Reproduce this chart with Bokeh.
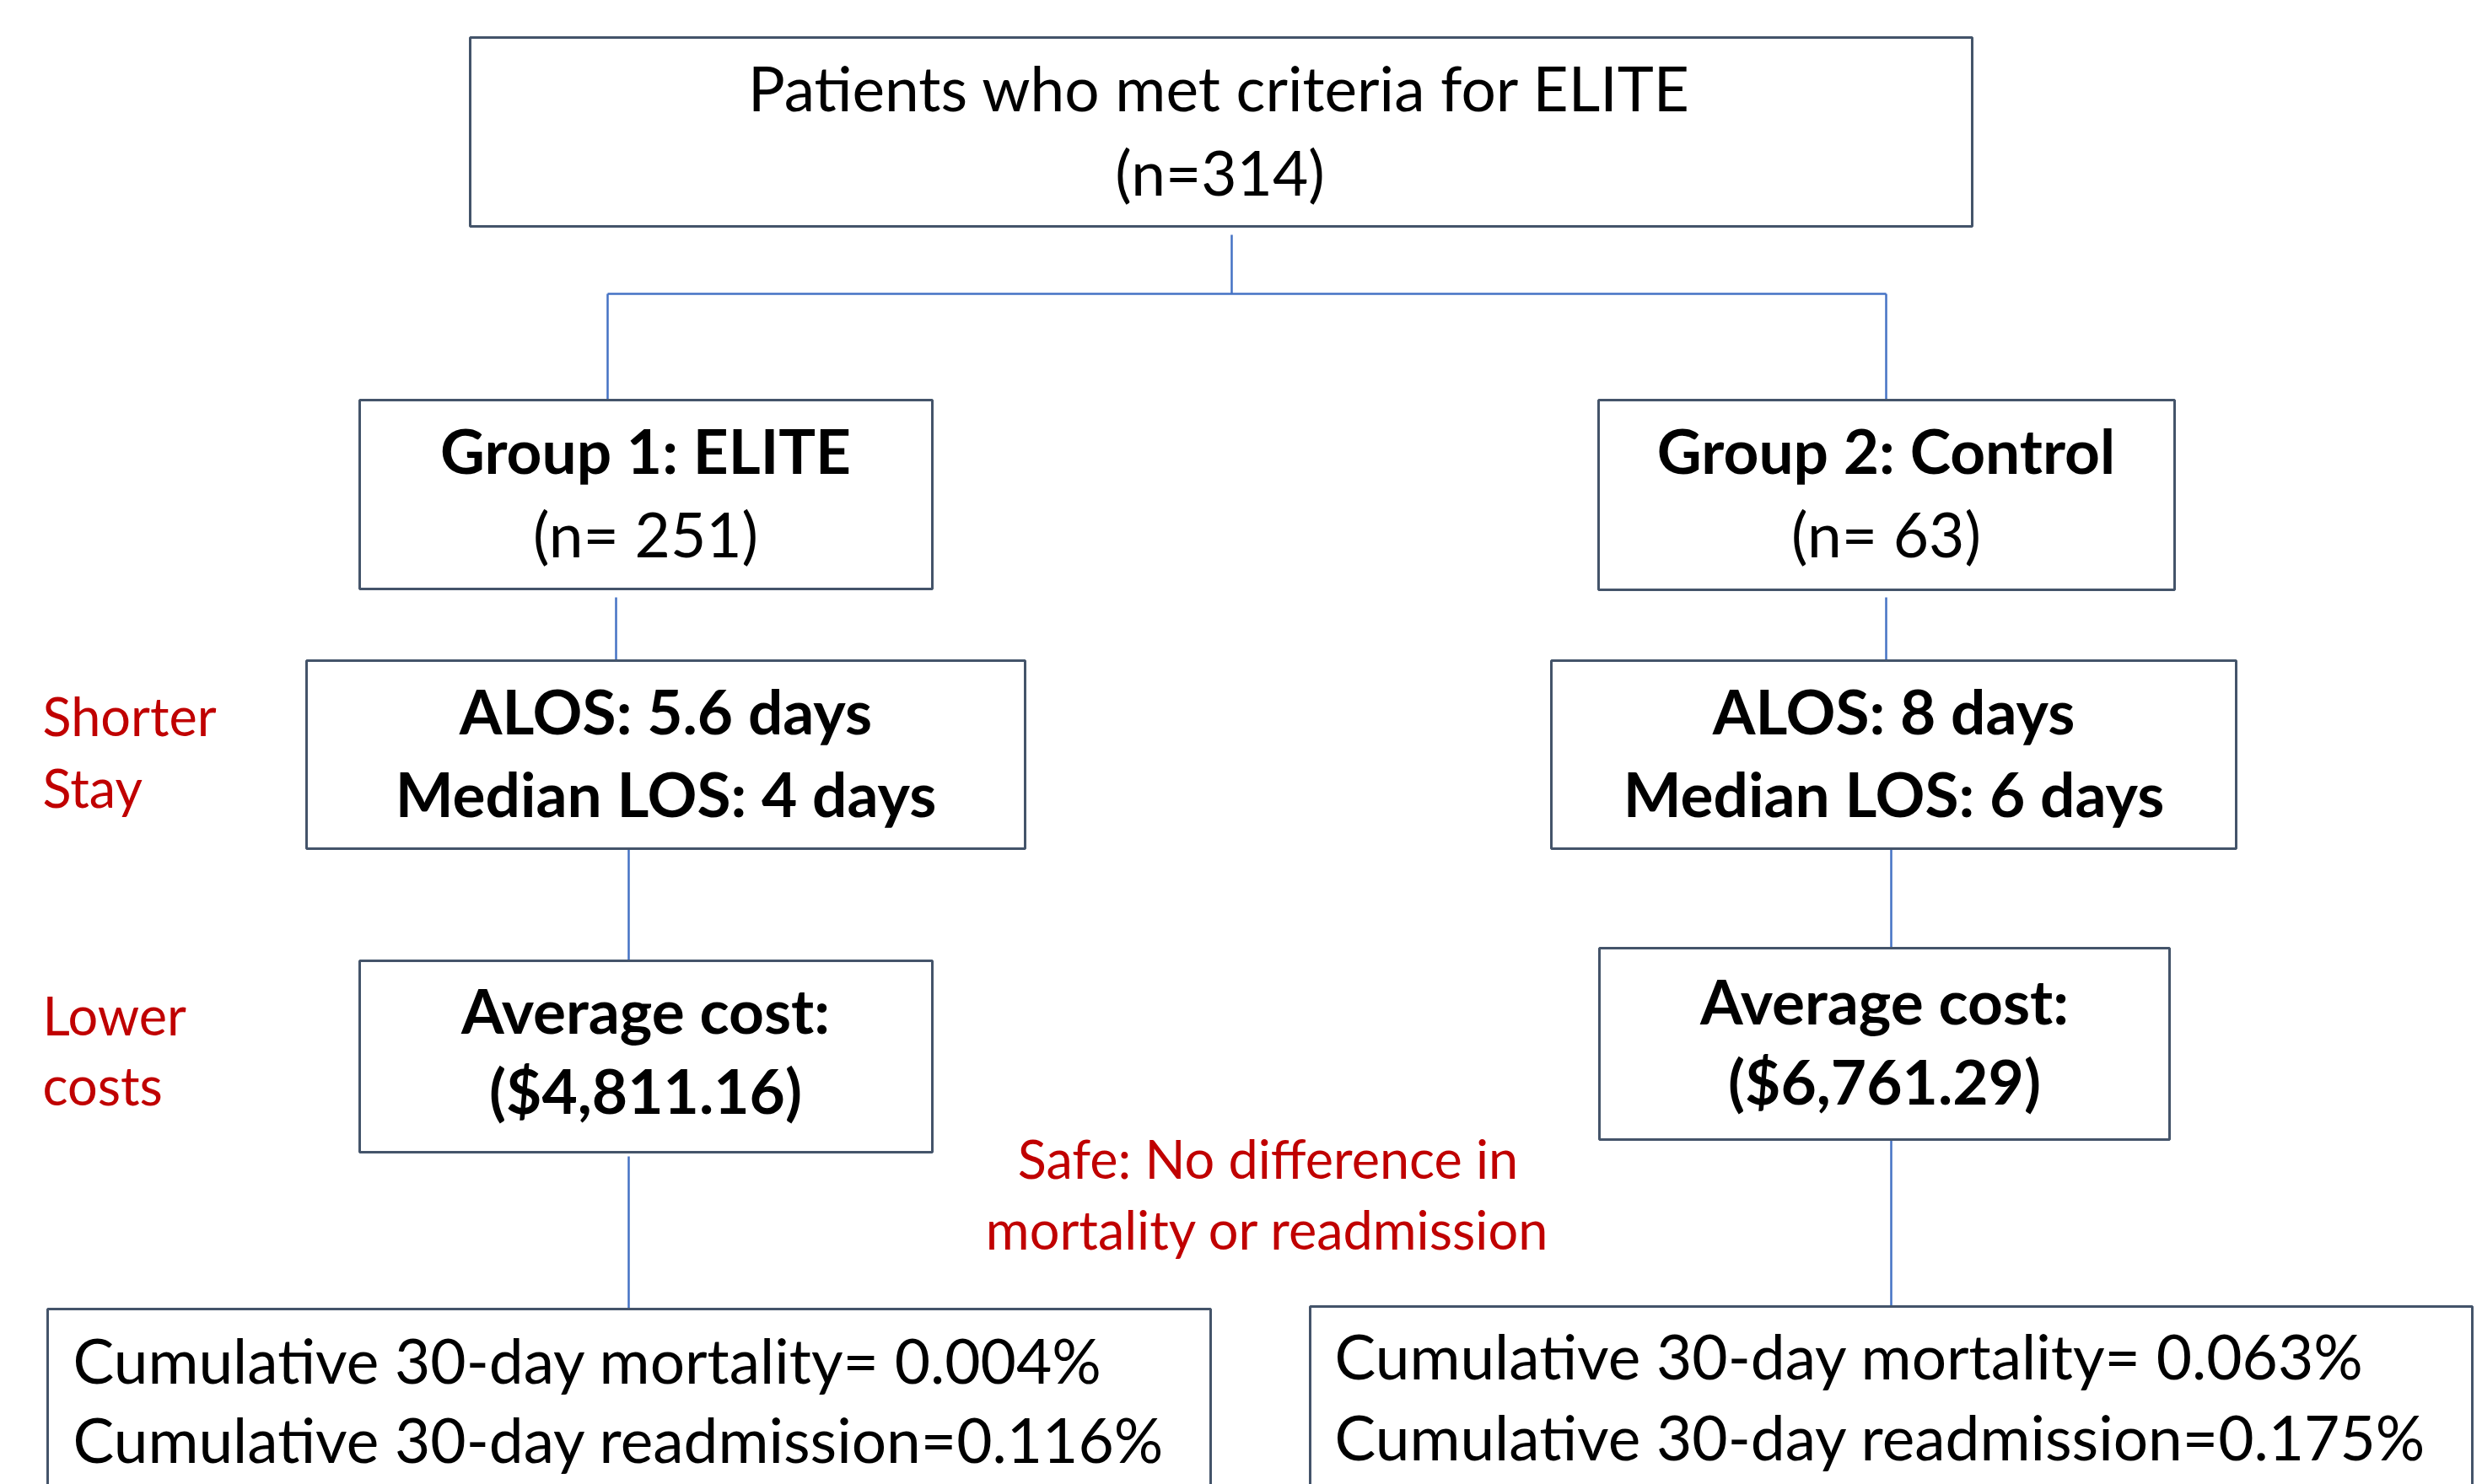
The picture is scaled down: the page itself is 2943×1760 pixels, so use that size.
from bokeh.plotting import figure
from bokeh.models import Range1d
from bokeh.core.properties import value
from bokeh.embed import file_html
from bokeh.resources import INLINE

# ---------------- data (texts of the flowchart) ----------------
top_title = "Patients who met criteria for ELITE"
top_n = 314
group_titles = ["Group 1: ELITE", "Group 2: Control"]
group_n = [251, 63]
alos_days = ["5.6", "8"]
median_los_days = [4, 6]
avg_cost = ["$4,811.16", "$6,761.29"]
mortality_pct = ["0.004%", "0.063%"]
readmission_pct = ["0.116%", "0.175%"]
note_stay = ["Shorter", "Stay"]
note_cost = ["Lower", "costs"]
note_safe = ["Safe: No difference in", "mortality or readmission"]

# ---------------- layout (screen pixel coordinates) ----------------
W, H = 2943, 1760
BORDER = "#44546A"
LINK = "#4472C4"
RED = "#C00000"
FONT = value("Lato")
MAIN = "73px"
NOTE = "63px"
DY_MAIN = -27   # baseline correction for the text layout
DY_NOTE = -24

boxes = {
    "top": (557, 2338, 44, 268),
    "g1": (426, 1105, 474, 698), "g2": (1895, 2578, 474, 699),
    "a1": (363, 1215, 783, 1006), "a2": (1839, 2651, 783, 1006),
    "c1": (426, 1105, 1139, 1366), "c2": (1896, 2572, 1124, 1351),
    "o1": (56, 1435, 1552, 1800), "o2": (1553, 2931, 1549, 1800),
}

p = figure(width=W, height=H, x_range=Range1d(0, W), y_range=Range1d(H, 0),
           output_backend="svg", toolbar_location=None, min_border=0)
p.axis.visible = False
p.grid.visible = False
p.outline_line_color = None
p.background_fill_color = "white"
p.border_fill_color = "white"

# connectors
seg = [
    (1460, 278, 1460, 348), (720, 348, 2236, 348),
    (720, 348, 720, 474), (2236, 348, 2236, 474),
    (730, 708, 730, 783), (2236, 708, 2236, 783),
    (745, 1006, 745, 1139), (2242, 1006, 2242, 1124),
    (745, 1371, 745, 1552), (2242, 1351, 2242, 1549),
]
p.segment(x0=[s[0] for s in seg], y0=[s[1] for s in seg],
          x1=[s[2] for s in seg], y1=[s[3] for s in seg],
          line_color=LINK, line_width=2.5)

# boxes
b = list(boxes.values())
p.quad(left=[v[0] for v in b], right=[v[1] for v in b], top=[v[2] for v in b],
       bottom=[v[3] for v in b], fill_color="white", line_color=BORDER, line_width=3)


def txt(x, y, s, size=MAIN, color="black", bold=False, align="center"):
    dy = DY_MAIN if size == MAIN else DY_NOTE
    p.text(x=[x], y=[y + dy], text=[s], text_font=FONT, text_font_size=size,
           text_color=color, text_align=align, text_baseline="alphabetic",
           text_font_style="bold" if bold else "normal")


# top box
txt(1446, 130, top_title)
txt(1446, 230, f"(n={top_n})")

gx = [765, 2236]
ax = [789, 2245]
cx = [765, 2234]
cy = [(1224, 1319), (1213, 1308)]
for i in range(2):
    txt(gx[i], 560, group_titles[i], bold=True)
    txt(gx[i], 659, f"(n= {group_n[i]})")
    txt(ax[i], 869, f"ALOS: {alos_days[i]} days", bold=True)
    txt(ax[i], 967, f"Median LOS: {median_los_days[i]} days", bold=True)
    txt(cx[i], cy[i][0], "Average cost:", bold=True)
    txt(cx[i], cy[i][1], f"({avg_cost[i]})", bold=True)

ox = [86, 1582]
oy = [(1639, 1733), (1634, 1730)]
for i in range(2):
    txt(ox[i], oy[i][0], f"Cumulative 30-day mortality= {mortality_pct[i]}", align="left")
    txt(ox[i], oy[i][1], f"Cumulative 30-day readmission={readmission_pct[i]}", align="left")

# red notes
txt(50, 872, note_stay[0], size=NOTE, color=RED, align="left")
txt(50, 957, note_stay[1], size=NOTE, color=RED, align="left")
txt(50, 1227, note_cost[0], size=NOTE, color=RED, align="left")
txt(50, 1310, note_cost[1], size=NOTE, color=RED, align="left")
txt(1503, 1397, note_safe[0], size=NOTE, color=RED)
txt(1503, 1481, note_safe[1], size=NOTE, color=RED)

open("out.html", "w").write(file_html(p, INLINE))
